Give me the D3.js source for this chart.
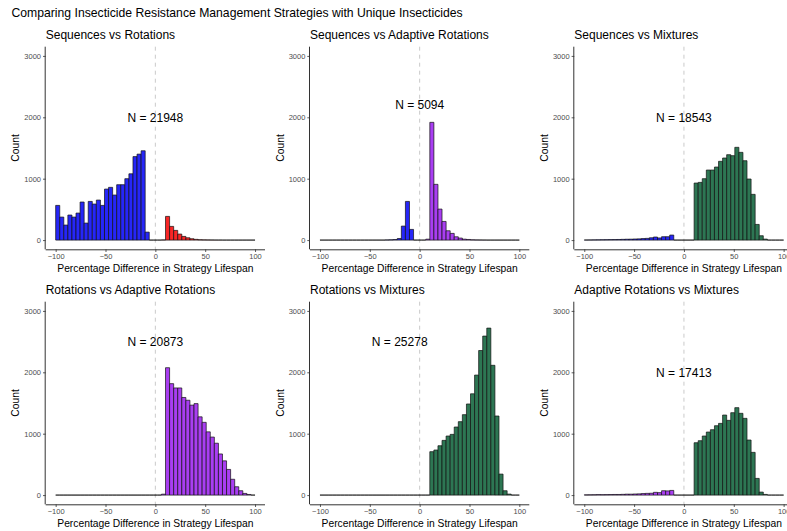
<!DOCTYPE html>
<html>
<head>
<meta charset="utf-8">
<script src="https://cdn.jsdelivr.net/npm/d3@7"></script>
<style>
  html, body { margin: 0; padding: 0; background: #fff; }
  svg { display: block; font-family: "Liberation Sans", Arial, sans-serif; }
</style>
</head>
<body>
<svg id="chart" width="787" height="531"></svg>
<script>
// Histogram bins: 49 equal bins spanning -100 .. 100 (% difference)
const binTotal = 49;
const xLimits = [-100, 100];

// Counts per bin, left to right, for each pairwise comparison
const seqVsRot = [565, 375, 245, 408, 375, 440, 620, 277, 630, 587, 652, 565, 831, 859, 734, 902, 902, 1000, 1080, 1360, 1400, 1455, 130,
  0, 0, 0, 3,
  386, 223, 158, 98, 60, 38, 22, 12, 6, 4, 3, 2, 1, 1, 0, 0, 0, 0, 0, 0, 0, 0];
const seqVsAdapt = [0, 0, 0, 0, 0, 0, 0, 0, 0, 0, 0, 0, 0, 0, 0, 0, 3, 5, 9, 26, 228, 630, 174,
  0, 0, 0, 15,
  1918, 908, 505, 304, 152, 109, 54, 33, 15, 10, 5, 3, 2, 1, 0, 0, 0, 0, 0, 0, 0, 0];
const seqVsMix = [2, 3, 4, 5, 6, 7, 8, 9, 10, 12, 14, 15, 18, 20, 25, 28, 38, 50, 35, 55, 55, 82,
  0, 0, 0, 0, 0,
  929, 940, 1000, 1141, 1141, 1190, 1283, 1337, 1391, 1375, 1511, 1429, 1293, 995, 745, 255, 71, 16,
  0, 0, 0, 0];
const rotVsAdapt = [0, 0, 0, 0, 0, 0, 0, 0, 0, 0, 0, 0, 0, 0, 0, 0, 0, 0, 0, 0, 0, 0, 0, 0, 0, 0, 15,
  2075, 1815, 1745, 1745, 1590, 1545, 1465, 1490, 1275, 1185, 1030, 945, 845, 670, 558, 418, 258, 136, 71, 27, 10,
  0];
const rotVsMix = [0, 0, 0, 0, 0, 0, 0, 0, 0, 0, 0, 0, 0, 0, 0, 0, 0, 0, 0, 0, 0, 0, 0, 0, 0, 0, 0,
  707, 734, 804, 891, 962, 989, 1109, 1196, 1310, 1484, 1650, 1955, 2355, 2590, 2720, 2114, 1288, 342, 71, 16,
  0, 0];
const adaptVsMix = [4, 5, 6, 8, 7, 8, 9, 10, 10, 12, 15, 15, 18, 20, 25, 28, 30, 45, 40, 71, 68, 76,
  0, 0, 0, 0, 0,
  853, 886, 962, 1027, 1065, 1130, 1168, 1304, 1217, 1342, 1424, 1332, 1250, 897, 696, 272, 49, 11,
  0, 0, 0, 0];

const panelTitles = ["Sequences vs Rotations", "Sequences vs Adaptive Rotations", "Sequences vs Mixtures",
  "Rotations vs Adaptive Rotations", "Rotations vs Mixtures", "Adaptive Rotations vs Mixtures"];
const panelCounts = [seqVsRot, seqVsAdapt, seqVsMix, rotVsAdapt, rotVsMix, adaptVsMix];
const panelN = [21948, 5094, 18543, 20873, 25278, 17413];
// Where each "N = ..." note sits, in data units [x, count]
const nLabelAt = [[0, 2000], [0, 2200], [0, 2000], [0, 2500], [-20, 2500], [0, 2000]];

// Strategy fill colours; negative side takes the first strategy, positive the second
const strategyColour = {
  Sequences: "#2626f8",
  Rotations: "#f82626",
  "Adaptive Rotations": "#a93ef2",
  Mixtures: "#2d7653"
};
const panelPairs = [["Sequences", "Rotations"], ["Sequences", "Adaptive Rotations"], ["Sequences", "Mixtures"],
  ["Rotations", "Adaptive Rotations"], ["Rotations", "Mixtures"], ["Adaptive Rotations", "Mixtures"]];

const yTicks = [0, 1000, 2000, 3000];
const xTicks = [-100, -50, 0, 50, 100];

const mainTitle = "Comparing Insecticide Resistance Management Strategies with Unique Insecticides";
const xTitle = "Percentage Difference in Strategy Lifespan";
const yTitle = "Count";

// ---- layout ----
const svg = d3.select("#chart");
const plotW = 219.3, plotH = 202.6;
const colLeft = [45.7, 310, 574.3];
const rowTop = [46.7, 301.7];

const binWidth = (xLimits[1] - xLimits[0]) / binTotal;
const x = d3.scaleLinear().domain([-110, 110]).range([0, plotW]);
const y = d3.scaleLinear().domain([-150, 3150]).range([plotH, 0]);

svg.append("text")
  .attr("x", 11.5).attr("y", 16.5)
  .attr("font-size", 12.2).attr("fill", "#000")
  .text(mainTitle);

panelCounts.forEach((counts, i) => {
  const left = colLeft[i % 3], top = rowTop[Math.floor(i / 3)];
  const g = svg.append("g").attr("transform", `translate(${left},${top})`);

  // panel title
  g.append("text").attr("x", 0).attr("y", -7.3)
    .attr("font-size", 12).attr("fill", "#000").text(panelTitles[i]);

  // zero reference line
  g.append("line")
    .attr("x1", x(0)).attr("x2", x(0)).attr("y1", 0).attr("y2", plotH)
    .attr("stroke", "#bdbdbd").attr("stroke-width", 0.8).attr("stroke-dasharray", "4,4");

  // histogram bars (zero-count bins draw as a flat outline)
  const bins = counts.map((c, k) => ({
    x0: xLimits[0] + k * binWidth,
    x1: xLimits[0] + (k + 1) * binWidth,
    count: c
  }));
  g.append("g").selectAll("path").data(bins).join("path")
    .attr("d", b => `M${x(b.x0)},${y(0)}V${y(b.count)}H${x(b.x1)}V${y(0)}Z`)
    .attr("fill", b => strategyColour[panelPairs[i][(b.x0 + b.x1) / 2 < 0 ? 0 : 1]])
    .attr("stroke", "#111").attr("stroke-width", 0.7);

  // axes
  const xa = g.append("g").attr("transform", `translate(0,${plotH})`)
    .call(d3.axisBottom(x).tickValues(xTicks).tickSize(2.7).tickPadding(2).tickFormat(d3.format("d")));
  const ya = g.append("g")
    .call(d3.axisLeft(y).tickValues(yTicks).tickSize(2.7).tickPadding(2).tickFormat(d3.format("d")));
  [xa, ya].forEach(a => {
    a.select(".domain").attr("stroke", "#333").attr("stroke-width", 1);
    a.selectAll(".tick line").attr("stroke", "#333").attr("stroke-width", 0.8);
    a.selectAll(".tick text").attr("fill", "#4d4d4d").attr("font-size", 7.5)
      .attr("font-family", "'Liberation Sans', Arial, sans-serif");
  });
  xa.select(".domain").attr("d", `M0,0.5H${plotW}`);
  ya.select(".domain").attr("d", `M-0.5,0V${plotH}`);

  // axis titles
  g.append("text").attr("x", plotW / 2).attr("y", plotH + 23.2)
    .attr("text-anchor", "middle").attr("font-size", 10.3).attr("fill", "#000").text(xTitle);
  g.append("text").attr("transform", `translate(${-26.5},${plotH / 2}) rotate(-90)`)
    .attr("text-anchor", "middle").attr("font-size", 10.3).attr("fill", "#000").text(yTitle);

  // sample size note
  g.append("text").attr("x", x(nLabelAt[i][0])).attr("y", y(nLabelAt[i][1]))
    .attr("dy", "0.36em").attr("text-anchor", "middle").attr("font-size", 12).attr("fill", "#000")
    .text(`N = ${panelN[i]}`);
});
</script>
</body>
</html>
